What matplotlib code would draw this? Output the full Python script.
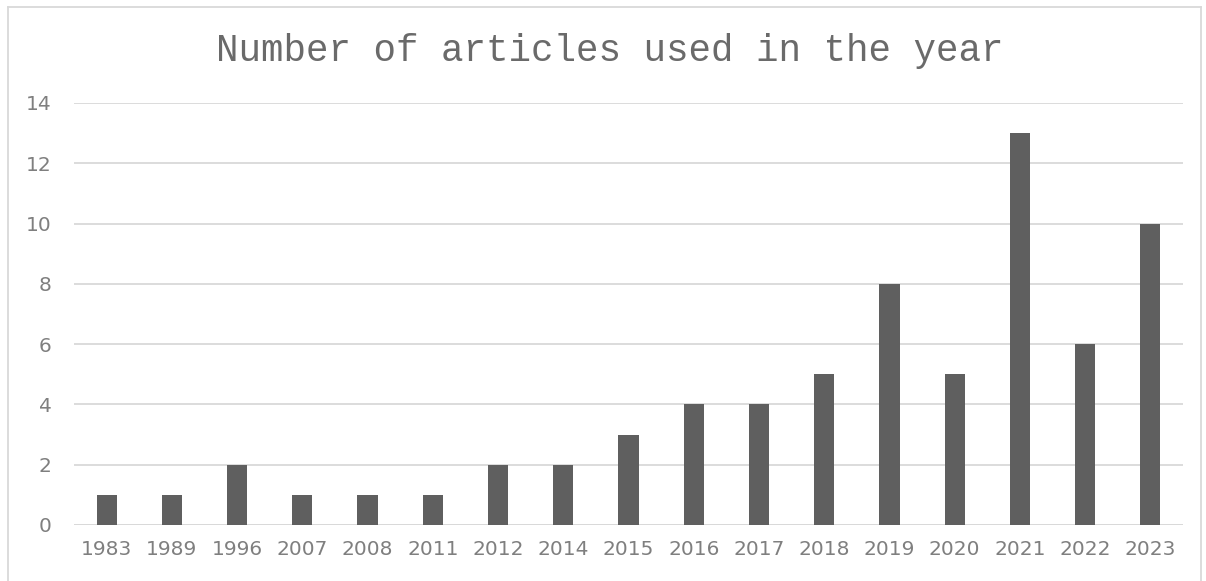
import matplotlib
matplotlib.use("Agg")
import matplotlib.pyplot as plt
from matplotlib.lines import Line2D

years = ["1983", "1989", "1996", "2007", "2008", "2011", "2012", "2014", "2015",
         "2016", "2017", "2018", "2019", "2020", "2021", "2022", "2023"]
counts = [1, 1, 2, 1, 1, 1, 2, 2, 3, 4, 4, 5, 8, 5, 13, 6, 10]
yticks = [0, 2, 4, 6, 8, 10, 12, 14]
title = "Number of articles used in the year"

W, H = 1206, 581
fig = plt.figure(figsize=(W / 100, H / 100), dpi=100)
ax = fig.add_axes([74 / W, (H - 525) / H, (1183 - 74) / W, (525 - 103) / H])

x = list(range(len(years)))
ax.bar(x, counts, width=0.31, color="#5f5f5f", zorder=3)
ax.set_xlim(-0.5, len(years) - 0.5)
ax.set_ylim(0, 14)
ax.set_yticks(yticks)
ax.set_xticks(x)
ax.set_xticklabels(years)
ax.grid(axis="y", color="#d9d9d9", linewidth=1.3, zorder=0)
ax.axhline(0, color="#d9d9d9", linewidth=1.3, zorder=1)
for s in ax.spines.values():
    s.set_visible(False)
ax.tick_params(length=0)
ax.tick_params(axis="x", pad=11)
ax.tick_params(axis="y", pad=16)
for lab in ax.get_xticklabels() + ax.get_yticklabels():
    lab.set_fontfamily("DejaVu Sans")
    lab.set_fontsize(14.5)
    lab.set_color("#7f7f7f")

fig.text(0.5 * (219 + 1000) / W, 1 - 51 / H, title, ha="center", va="center",
         fontsize=27, family="Liberation Mono", color="#6a6a6a")

# outer chart frame (light gray), bottom edge off-image
fc = "#d9d9d9"
fig.add_artist(Line2D([8 / W, 8 / W], [0, 1 - 7 / H], color=fc, lw=1.3, transform=fig.transFigure))
fig.add_artist(Line2D([8 / W, 1201 / W], [1 - 7 / H, 1 - 7 / H], color=fc, lw=1.3, transform=fig.transFigure))
fig.add_artist(Line2D([1201 / W, 1201 / W], [0, 1 - 7 / H], color=fc, lw=1.3, transform=fig.transFigure))

fig.savefig("out.png", dpi=100)
